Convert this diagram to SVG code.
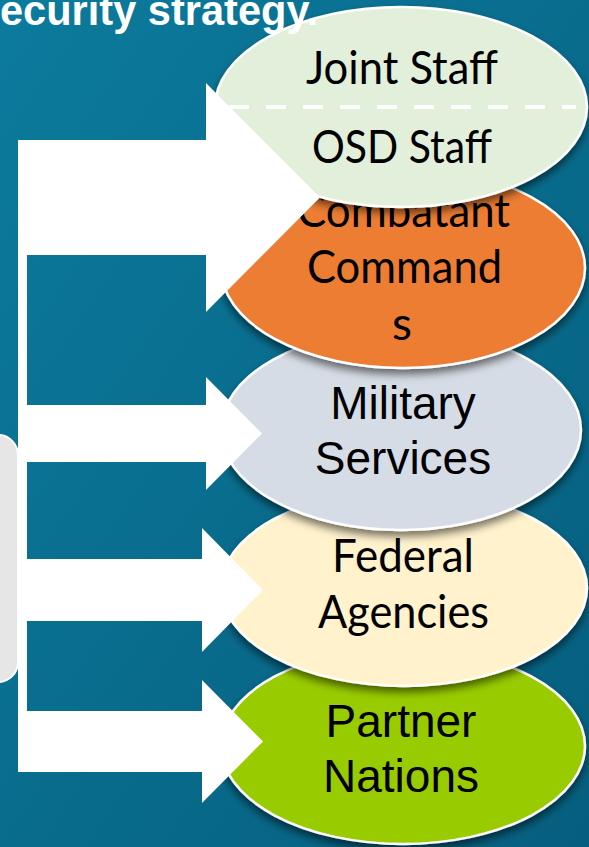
<svg xmlns="http://www.w3.org/2000/svg" width="589" height="847" viewBox="0 0 589 847">
  <defs>
    <linearGradient id="bg" x1="0" y1="0" x2="1" y2="1">
      <stop offset="0" stop-color="#0c7b9d"/>
      <stop offset="1" stop-color="#065e7e"/>
    </linearGradient>
    <filter id="sh" x="-10%" y="-10%" width="120%" height="130%">
      <feDropShadow dx="0" dy="5" stdDeviation="4" flood-color="#000" flood-opacity="0.55"/>
    </filter>
  </defs>
  <style>
    .node { stroke: #ffffff; stroke-width: 2.5; filter: url(#sh); }
    .cal { font-family: Lato, "Open Sans", "Liberation Sans", sans-serif; font-size: 46px; fill: #000; text-anchor: middle; }
    .ari { font-family: "Liberation Sans", Arial, sans-serif; font-size: 46px; fill: #000; text-anchor: middle; }
    .arrow { fill: #ffffff; }
  </style>

  <rect x="0" y="0" width="589" height="847" fill="url(#bg)"/>

  <g id="source-box">
    <rect x="-30" y="435" width="48" height="247" rx="20" ry="20" fill="#e6e6e6" stroke="#ffffff" stroke-width="2"/>
  </g>

  <g id="node-partner-nations">
    <ellipse class="node" cx="403" cy="746" rx="182" ry="98" fill="#99cc00"/>
    <text class="ari" x="401" y="737">Partner</text>
    <text class="ari" x="401" y="792">Nations</text>
  </g>

  <g id="node-federal-agencies">
    <ellipse class="node" cx="404" cy="588" rx="183" ry="98" fill="#fff2cc"/>
    <text class="cal" x="403" y="572" textLength="142" lengthAdjust="spacingAndGlyphs">Federal</text>
    <text class="cal" x="403.5" y="628" textLength="171" lengthAdjust="spacingAndGlyphs">Agencies</text>
  </g>

  <g id="node-military-services">
    <ellipse class="node" cx="401" cy="430" rx="180" ry="100" fill="#d6dce5"/>
    <text class="ari" x="403" y="419">Military</text>
    <text class="ari" x="403" y="474">Services</text>
  </g>

  <g id="node-combatant-commands">
    <ellipse class="node" cx="403" cy="268" rx="182" ry="100" fill="#ed7d31"/>
    <text class="cal" x="403.5" y="227" textLength="213" lengthAdjust="spacingAndGlyphs">Combatant</text>
    <text class="cal" x="404.5" y="283" textLength="195" lengthAdjust="spacingAndGlyphs">Command</text>
    <text class="cal" x="402" y="340">s</text>
  </g>

  <g id="node-joint-osd-staff">
    <ellipse class="node" cx="401" cy="107" rx="186" ry="100" fill="#e2efda"/>
    <line x1="229" y1="107" x2="576" y2="107" stroke="#ffffff" stroke-width="4" stroke-dasharray="20 17"/>
    <text class="cal" x="402" y="84" textLength="192" lengthAdjust="spacingAndGlyphs">Joint Staff</text>
    <text class="cal" x="402" y="163" textLength="180" lengthAdjust="spacingAndGlyphs">OSD Staff</text>
  </g>

  <g id="connectors">
    <rect class="arrow" x="18" y="140" width="9" height="632"/>
    <polygon class="arrow" points="18,140 206,140 206,83 320,197.5 206,312 206,255 18,255"/>
    <polygon class="arrow" points="18,405 206,405 206,377 262,433.5 206,490 206,462 18,462"/>
    <polygon class="arrow" points="18,559 202,559 202,528 263,590 202,652 202,621 18,621"/>
    <polygon class="arrow" points="18,711 202,711 202,680 263,741.5 202,803 202,772 18,772"/>
  </g>

  <g id="title">
    <text x="0" y="25" font-family="'Liberation Sans', Arial, sans-serif" font-weight="bold" font-size="42" fill="#ffffff" textLength="318" lengthAdjust="spacingAndGlyphs">ecurity strategy.</text>
  </g>
</svg>
